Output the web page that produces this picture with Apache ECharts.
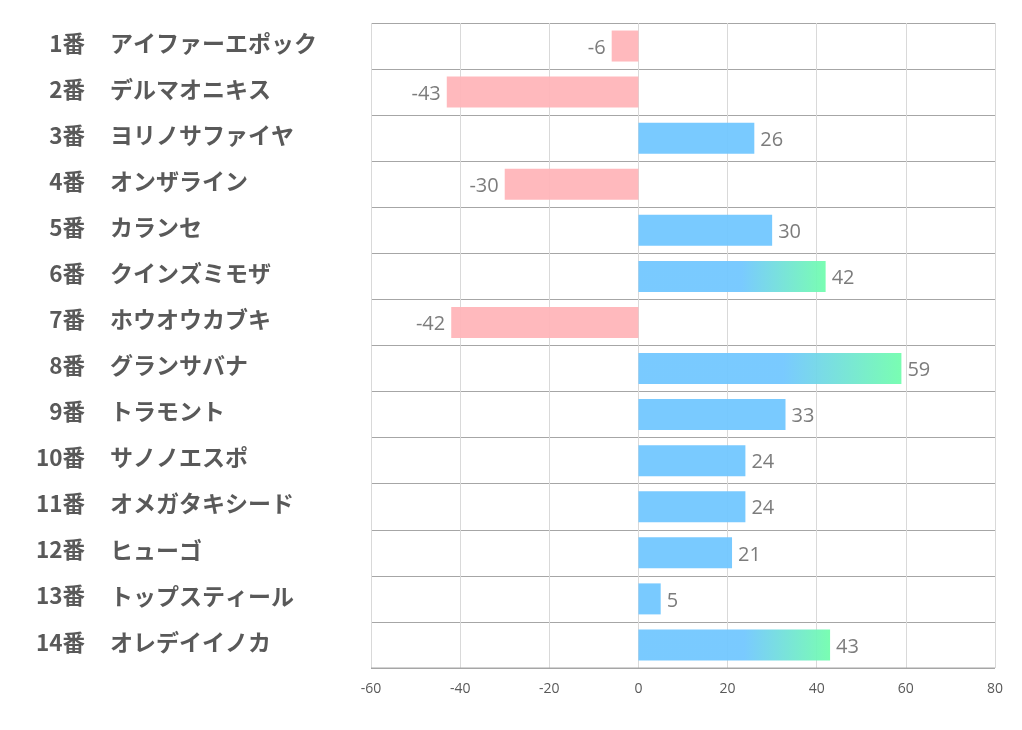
<!DOCTYPE html>
<html><head><meta charset="utf-8">
<script src="https://cdn.jsdelivr.net/npm/echarts@6/dist/echarts.min.js"></script>
<style>html,body{margin:0;padding:0;background:#fff}#c{width:1022px;height:730px}</style>
</head><body><div id="c"></div>
<script>
const numbers = ['1番','2番','3番','4番','5番','6番','7番','8番','9番','10番','11番','12番','13番','14番'];
const names = ['アイファーエポック','デルマオニキス','ヨリノサファイヤ','オンザライン','カランセ','クインズミモザ','ホウオウカブキ','グランサバナ','トラモント','サノノエスポ','オメガタキシード','ヒューゴ','トップスティール','オレデイイノカ'];
const values = [-6,-43,26,-30,30,42,-42,59,33,24,24,21,5,43];
const xTicks = [-60,-40,-20,0,20,40,60,80];

const BLUE='#72C7FF', GREEN='#72FDAE', PINK='#FFB5B9';
const data = values.map(v=>{
  let color;
  if (v < 0) color = PINK;
  else if (v >= 40) color = new echarts.graphic.LinearGradient(0,0,1,0,[{offset:0,color:BLUE},{offset:0.55,color:BLUE},{offset:1,color:GREEN}]);
  else color = BLUE;
  return {value:v, itemStyle:{color:color}, label:{position: v<0?'left':'right'}};
});

const richLab = {t:{fontSize:23,fontWeight:'bold',color:'#595959',fontFamily:'Noto Sans CJK JP',padding:[0,0,6,0]}};
const richNum = {t:{fontSize:22.5,fontWeight:'bold',color:'#595959',fontFamily:'Noto Sans CJK JP',padding:[0,0,6,0]}};
const fmt = v => '{t|' + v + '}';

const chart = echarts.init(document.getElementById('c'));
chart.setOption({
  animation:false,
  grid:{left:371,right:27,top:23,bottom:62,containLabel:false},
  xAxis:{type:'value',min:xTicks[0],max:xTicks[xTicks.length-1],interval:20,
    axisLine:{show:false},axisTick:{show:false},
    axisLabel:{color:'#595959',fontSize:14,fontFamily:'Open Sans, sans-serif',margin:14},
    splitLine:{show:true,lineStyle:{color:'#D9D9D9',width:1}}},
  yAxis:[
    {type:'category',data:numbers,inverse:true,position:'left',
      axisLine:{show:false},axisTick:{show:false},
      splitLine:{show:true,lineStyle:{color:'#A6A6A6',width:1}},
      axisLabel:{align:'right',margin:286,formatter:fmt,rich:richNum}},
    {type:'category',data:names,inverse:true,position:'left',offset:0,
      axisLine:{show:false},axisTick:{show:false},splitLine:{show:false},
      axisLabel:{align:'left',margin:261,formatter:fmt,rich:richLab}}
  ],
  series:[{type:'bar',data:data,barWidth:31,yAxisIndex:0,
    itemStyle:{opacity:0.95},
    label:{show:true,color:'#757575',fontSize:20,fontFamily:'Open Sans, sans-serif',distance:6,offset:[0,2]}
  }],
  graphic:[
    {type:'line',shape:{x1:371,y1:668,x2:995,y2:668},style:{stroke:'#A6A6A6',lineWidth:1},z:10}
  ]
});
</script></body></html>
